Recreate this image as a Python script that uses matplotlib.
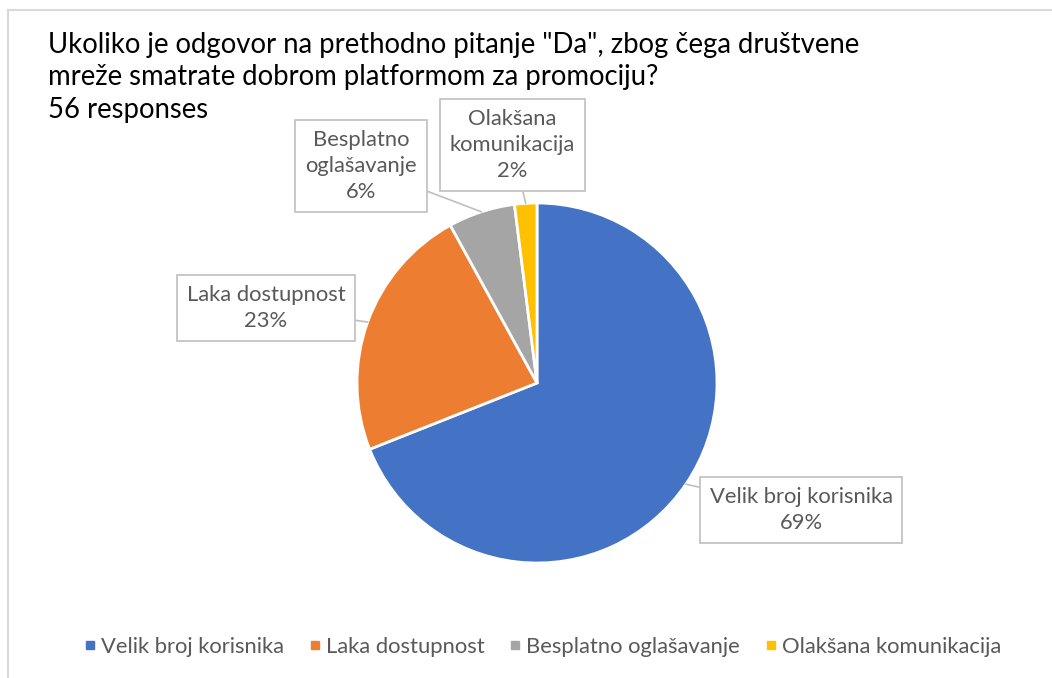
import numpy as np
import matplotlib
matplotlib.use('Agg')
import matplotlib.pyplot as plt
from matplotlib.lines import Line2D

categories = ['Velik broj korisnika', 'Laka dostupnost', 'Besplatno oglašavanje', 'Olakšana komunikacija']
percent = [69, 23, 6, 2]
colors = ['#4472C4', '#ED7D31', '#A5A5A5', '#FFC000']
label_text = ['Velik broj korisnika', 'Laka dostupnost', 'Besplatno\noglašavanje', 'Olakšana\nkomunikacija']
title_lines = ['Ukoliko je odgovor na prethodno pitanje "Da", zbog čega društvene',
               'mreže smatrate dobrom platformom za promociju?',
               '56 responses']

plt.rcParams['font.family'] = ['Lato', 'DejaVu Sans']

W, H = 1052, 678
fig = plt.figure(figsize=(W / 100, H / 100), dpi=100)

# pie centre and radius in pixels
cx, cy, R = 537, 383, 180
axes = fig.add_axes([(cx - R) / W, (H - cy - R) / H, 2 * R / W, 2 * R / H])
wedges, _ = axes.pie(percent, colors=colors, startangle=90, counterclock=False, radius=1,
                     wedgeprops=dict(edgecolor='white', linewidth=2))
axes.set_xlim(-1, 1)
axes.set_ylim(-1, 1)
axes.set_aspect('auto')
axes.axis('off')

# callout text centres (pixels)
text_pos = [(801, 510), (266, 308), (361, 166), (512, 145)]
angles = 90 - 360 * (np.cumsum(percent) - np.array(percent) / 2) / 100
for i in range(len(percent)):
    a = np.deg2rad(angles[i])
    tx = (text_pos[i][0] - cx) / R
    ty = (cy - text_pos[i][1]) / R
    axes.annotate('%s\n%d%%' % (label_text[i], percent[i]),
                  xy=(np.cos(a), np.sin(a)), xytext=(tx, ty),
                  ha='center', va='center', fontsize=15.8, color='#595959',
                  linespacing=1.4, annotation_clip=False,
                  bbox=dict(boxstyle='square,pad=0.45', fc='white', ec='#bfbfbf', lw=1.2),
                  arrowprops=dict(arrowstyle='-', color='#bfbfbf', lw=1.2, shrinkA=0, shrinkB=0))

# title, one text per line
for k, line in enumerate(title_lines):
    fig.text(48 / W, 1 - (53 + 32.5 * k) / H, line, ha='left', va='baseline',
             fontsize=19.8, color='black')

handles = [Line2D([], [], marker='s', ls='', color=c, markersize=6) for c in colors]
fig.legend(handles, categories, loc='center', bbox_to_anchor=(541 / W, 1 - 647 / H), ncol=4,
           frameon=False, fontsize=15.8, labelcolor='#595959', handletextpad=0.1,
           columnspacing=1.0, handlelength=0.8)

# outer chart border
fig.add_artist(Line2D([7.5 / W, 1], [1 - 9.5 / H, 1 - 9.5 / H], transform=fig.transFigure, color='#d9d9d9', lw=1.5))
fig.add_artist(Line2D([7.5 / W, 7.5 / W], [0, 1 - 9.5 / H], transform=fig.transFigure, color='#d9d9d9', lw=1.5))

fig.savefig('out.png', dpi=100)
